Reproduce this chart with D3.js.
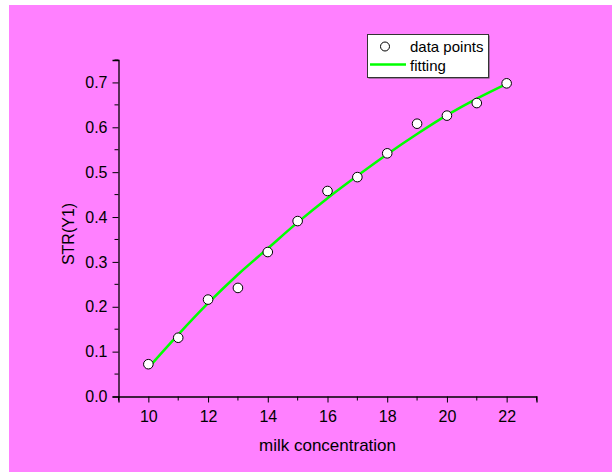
<!DOCTYPE html>
<html>
<head>
<meta charset="utf-8">
<script src="https://cdn.jsdelivr.net/npm/d3@7"></script>
<style>
  body { margin: 0; background: #fff; }
  text { font-family: Arial, "Liberation Sans", sans-serif; fill: #000; }
</style>
</head>
<body>
<div id="chart"></div>
<script>
// data
var conc = [10, 11, 12, 13, 14, 15, 16, 17, 18, 19, 20, 21, 22];
var str = [0.072, 0.131, 0.216, 0.242, 0.322, 0.391, 0.458, 0.489, 0.542, 0.608, 0.626, 0.654, 0.698];
var fitted = [0.064, 0.138, 0.208, 0.272, 0.330, 0.388, 0.442, 0.492, 0.540, 0.585, 0.627, 0.664, 0.697];
var xTicks = [10, 12, 14, 16, 18, 20, 22];
var yTicks = [0, 0.1, 0.2, 0.3, 0.4, 0.5, 0.6, 0.7];
var legendLabels = ["data points", "fitting"];

var W = 612, H = 472;
var svg = d3.select("#chart").append("svg")
    .attr("width", W)
    .attr("height", H);

// pink page
svg.append("rect")
    .attr("x", 9).attr("y", 5)
    .attr("width", W - 9).attr("height", H - 5)
    .attr("fill", "#ff80ff");

var xScale = d3.scaleLinear().domain([9, 23]).range([118.5, 536.5]);
var yScale = d3.scaleLinear().domain([0, 0.75]).range([396.5, 60]);

// minor ticks
var xMinor = d3.range(9, 23.01, 1).filter(function(d){ return d % 2 == 1; });
var yMinor = d3.range(0.05, 0.751, 0.1);

var xAxisG = svg.append("g")
    .attr("transform", "translate(0," + yScale(0) + ")");
xAxisG.call(d3.axisBottom(xScale).tickValues(xTicks).tickSize(6).tickPadding(8).tickFormat(d3.format("d")));
xAxisG.selectAll(".minor").data(xMinor).enter().append("line")
    .attr("x1", function(d){ return xScale(d); })
    .attr("x2", function(d){ return xScale(d); })
    .attr("y1", 0).attr("y2", 4)
    .attr("stroke", "#000");

var yAxisG = svg.append("g")
    .attr("transform", "translate(" + xScale(9) + ",0)");
yAxisG.call(d3.axisLeft(yScale).tickValues(yTicks).tickSize(6).tickPadding(5).tickFormat(d3.format(".1f")));
yAxisG.selectAll(".minor").data(yMinor).enter().append("line")
    .attr("y1", function(d){ return yScale(d); })
    .attr("y2", function(d){ return yScale(d); })
    .attr("x1", 0).attr("x2", -4)
    .attr("stroke", "#000");

svg.selectAll(".domain").attr("stroke", "#000").attr("stroke-width", 1.3);
svg.selectAll(".tick line").attr("stroke", "#000");
svg.selectAll(".tick text").style("font-size", "16px");

// axis titles
svg.append("text")
    .attr("x", (xScale(9) + xScale(23)) / 2)
    .attr("y", 451)
    .attr("text-anchor", "middle")
    .style("font-size", "17px")
    .text("milk concentration");

svg.append("text")
    .attr("transform", "translate(74," + 234 + ") rotate(-90)")
    .attr("text-anchor", "middle")
    .style("font-size", "16px")
    .text("STR(Y1)");

// fitting curve
var line = d3.line()
    .x(function(d, i){ return xScale(conc[i]); })
    .y(function(d){ return yScale(d); })
    .curve(d3.curveMonotoneX);

svg.append("path")
    .datum(fitted)
    .attr("d", line)
    .attr("fill", "none")
    .attr("stroke", "#00ff00")
    .attr("stroke-width", 2.5);

// data points
svg.selectAll(".pt").data(str).enter().append("circle")
    .attr("cx", function(d, i){ return xScale(conc[i]); })
    .attr("cy", function(d){ return yScale(d); })
    .attr("r", 4.8)
    .attr("fill", "#fff")
    .attr("stroke", "#000")
    .attr("stroke-width", 1);

// legend
var lg = svg.append("g");
lg.append("rect")
    .attr("x", 368.5).attr("y", 35.5)
    .attr("width", 121).attr("height", 43)
    .attr("fill", "#555");
lg.append("rect")
    .attr("x", 367.5).attr("y", 34.5)
    .attr("width", 121).attr("height", 43)
    .attr("fill", "#fff")
    .attr("stroke", "#333")
    .attr("stroke-width", 1);
lg.append("circle")
    .attr("cx", 385).attr("cy", 46.5).attr("r", 4.5)
    .attr("fill", "#fff").attr("stroke", "#000");
lg.append("line")
    .attr("x1", 370).attr("x2", 406)
    .attr("y1", 64.5).attr("y2", 64.5)
    .attr("stroke", "#00ff00").attr("stroke-width", 2.5);
lg.selectAll(".lt").data(legendLabels).enter().append("text")
    .attr("x", 410)
    .attr("y", function(d, i){ return 52 + i * 18.5; })
    .style("font-size", "15px")
    .text(function(d){ return d; });
</script>
</body>
</html>
